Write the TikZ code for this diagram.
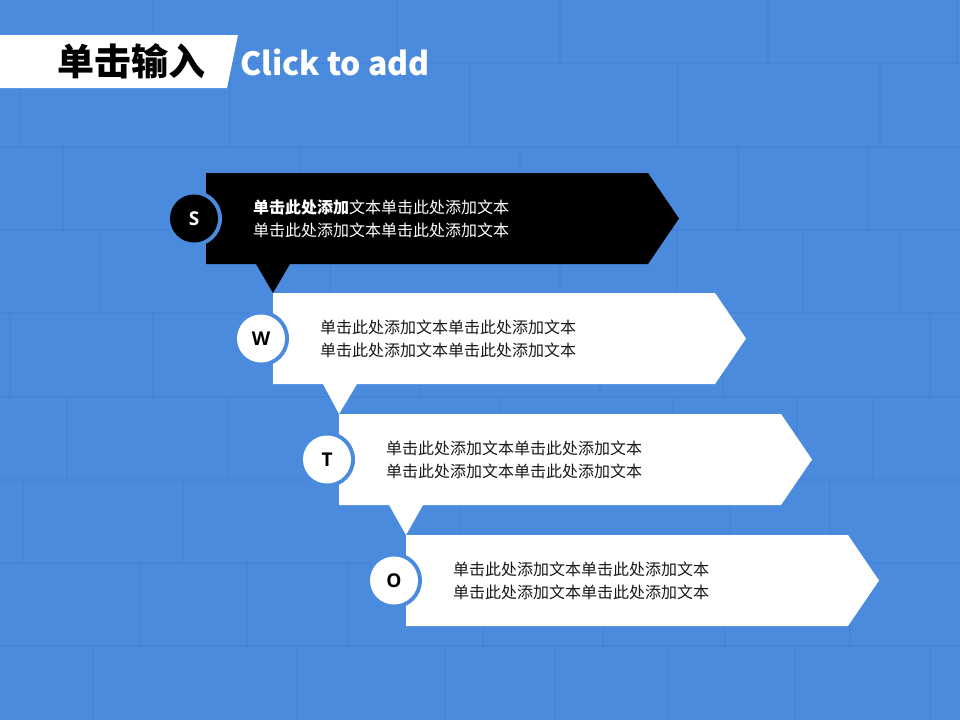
\documentclass[tikz,border=0pt]{standalone}
\usepackage{fontspec}
\setmainfont{Noto Sans CJK SC}
\newfontfamily\cjkfont{Noto Sans CJK SC}
\newfontfamily\latfont{Open Sans}
\definecolor{bg}{RGB}{74,139,222}
\definecolor{mortar}{RGB}{50,104,180}
\definecolor{txtdark}{RGB}{25,25,25}
\tikzset{
  brick/.style={draw=mortar, line width=2pt, opacity=0.16},
  bodytext/.style={anchor=west, align=left, font=\cjkfont\fontsize{16}{23}\selectfont, inner sep=0pt},
  letter/.style={font=\latfont\bfseries\fontsize{19}{19}\selectfont, inner sep=0pt},
  disc/.style={circle, minimum size=48pt, inner sep=0pt},
  halo/.style={circle, fill=bg, minimum size=56pt, inner sep=0pt},
}
\begin{document}
\begin{tikzpicture}[x=1pt, y=-1pt]
\useasboundingbox (0,0) rectangle (960,720);
\fill[bg] (0,0) rectangle (960,720);
% brick mortar lines
\foreach \yy in {63,147,230,313,397,480,563,646}
  \draw[brick] (0,\yy) -- (960,\yy);
\foreach \ya/\yb/\xs in {
  0/63/{153,397,560,768,957},
  63/147/{20,230,470,678,880},
  147/230/{63,300,520,738,868},
  230/313/{100,330,560,677,803,900},
  313/397/{10,153,420,600,723,930},
  397/480/{67,228,500,673,797,873},
  480/563/{23,183,460,730,830},
  563/646/{140,247,348,483,603,725,850},
  646/720/{93,297,445,555,668,795,930}}{
  \foreach \xx in \xs
    \draw[brick] (\xx,\ya) -- (\xx,\yb);
}
% title
\fill[white] (0,35) -- (238,35) -- (227,88) -- (0,88) -- cycle;
\node[font=\cjkfont\bfseries\fontsize{37}{37}\selectfont, text=black, inner sep=0pt] (title) at (131.5,61) {单击输入};
\node[font=\cjkfont\bfseries\fontsize{32}{32}\selectfont, text=white, anchor=base west, inner sep=0pt] (sub) at (240,75) {Click to add};
% coordinates of boxes (top-left corners)
\coordinate (b1) at (206,173);
\coordinate (b2) at (273,293);
\coordinate (b3) at (339,414);
\coordinate (b4) at (406,535);
% pointer triangles
\fill[black] ([xshift=50pt,yshift=-91pt]b1) -- ([xshift=84pt,yshift=-91pt]b1) -- (b2) -- cycle;
\fill[white] ([xshift=50pt,yshift=-91pt]b2) -- ([xshift=84pt,yshift=-91pt]b2) -- (b3) -- cycle;
\fill[white] ([xshift=50pt,yshift=-91pt]b3) -- ([xshift=84pt,yshift=-91pt]b3) -- (b4) -- cycle;
% boxes
\foreach \b/\c in {b1/black, b2/white, b3/white, b4/white}
  \fill[\c] (\b) -- ++(442,0) -- ++(31,45.5) -- ++(-31,45.5) -- ++(-442,0) -- cycle;
% halos and discs
\foreach \b/\n in {b1/s, b2/w, b3/t, b4/o}
  \node[halo] (h\n) at ([xshift=-12pt,yshift=-45.5pt]\b) {};
\node[disc, fill=black] (cs) at (hs) {};
\node[disc, fill=white] (cw) at (hw) {};
\node[disc, fill=white] (ct) at (ht) {};
\node[disc, fill=white] (co) at (ho) {};
\node[letter, text=white] (ls) at (cs) {S};
\node[letter, text=black] (lw) at (cw) {W};
\node[letter, text=black] (lt) at (ct) {T};
\node[letter, text=black] (lo) at (co) {O};
% texts
\node[bodytext, text=white] (t1) at ([xshift=47pt,yshift=-45.5pt]b1) {\textbf{单击此处添加}文本单击此处添加文本\\单击此处添加文本单击此处添加文本};
\node[bodytext, text=txtdark] (t2) at ([xshift=47pt,yshift=-45.5pt]b2) {单击此处添加文本单击此处添加文本\\单击此处添加文本单击此处添加文本};
\node[bodytext, text=txtdark] (t3) at ([xshift=47pt,yshift=-45.5pt]b3) {单击此处添加文本单击此处添加文本\\单击此处添加文本单击此处添加文本};
\node[bodytext, text=txtdark] (t4) at ([xshift=47pt,yshift=-45.5pt]b4) {单击此处添加文本单击此处添加文本\\单击此处添加文本单击此处添加文本};
\end{tikzpicture}
\end{document}
